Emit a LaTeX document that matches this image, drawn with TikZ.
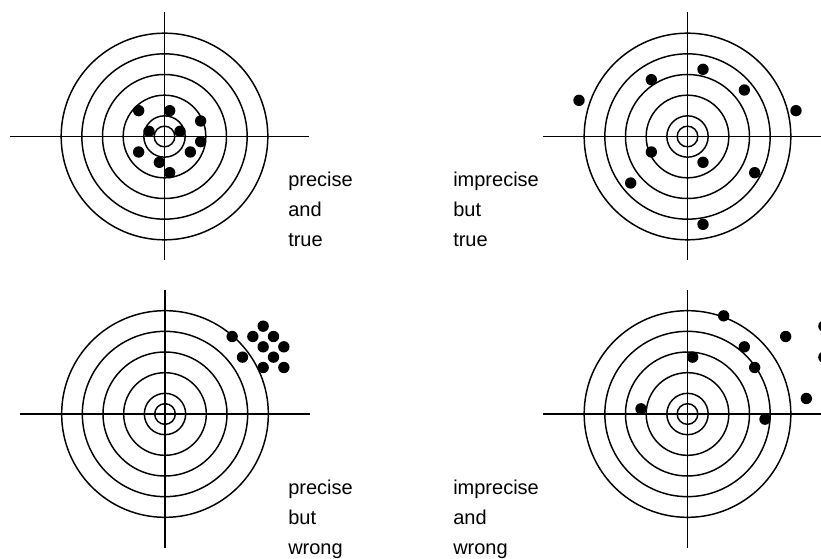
\documentclass[tikz,border=0pt]{standalone}
\usepackage{fontspec}
\setmainfont{Liberation Sans}
\tikzset{
  ring/.style={line width=1.1pt},
  axisline/.style={line width=1.1pt},
  shot/.style={fill=black},
  lbl/.style={anchor=base west, align=left, inner sep=0pt, font=\fontsize{15pt}{22.5pt}\selectfont},
  unitgrid/.style={x=7.75pt, y=-7.75pt}
}
\newcommand\rings{%
  \foreach \r in {1,2,4,6,8,10} {\draw[ring] (0,0) circle[radius=\r];}%
}
\begin{document}
\begin{tikzpicture}[x=0.75pt, y=-0.75pt]
\useasboundingbox (0,0) rectangle (821,559);
\clip (0,0) rectangle (821,559);

% top left: precise and true
\begin{scope}[shift={(164.5,136.5)}, unitgrid]
  \rings
  \draw[axisline] (-15,0) -- (14,0);
  \draw[axisline] (0,-12) -- (0,12);
  \foreach \p in {(-2.5,-2.5),(0.5,-2.5),(3.5,-1.5),(-1.5,-0.5),(1.5,-0.5),(3.5,0.5),(-2.5,1.5),(2.5,1.5),(-0.5,2.5),(0.5,3.5)}
    {\fill[shot] \p circle[radius=0.55];}
\end{scope}
\node[lbl] (tl) at (288,247) {precise\\and\\true};

% top right: imprecise but true
\begin{scope}[shift={(687.5,136.5)}, unitgrid]
  \rings
  \draw[axisline] (-14,0) -- (14,0);
  \draw[axisline] (0,-12) -- (0,12);
  \foreach \p in {(-10.5,-3.5),(-3.5,-5.5),(1.5,-6.5),(5.5,-4.5),(10.5,-2.5),(-3.5,1.5),(1.5,2.5),(6.5,3.5),(-5.5,4.5),(1.5,8.5)}
    {\fill[shot] \p circle[radius=0.55];}
\end{scope}
\node[lbl] (tr) at (453,247) {imprecise\\but\\true};

% bottom left: precise but wrong
\begin{scope}[shift={(165,414)}, unitgrid]
  \rings
  \draw[axisline] (-14,0) -- (14,0);
  \draw[axisline] (0,-12) -- (0,13);
  \foreach \p in {(6.5,-7.5),(8.5,-7.5),(9.5,-8.5),(10.5,-7.5),(9.5,-6.5),(11.5,-6.5),(7.5,-5.5),(10.5,-5.5),(9.5,-4.5),(11.5,-4.5)}
    {\fill[shot] \p circle[radius=0.55];}
\end{scope}
\node[lbl] (bl) at (288,554) {precise\\but\\wrong};

% bottom right: imprecise and wrong
\begin{scope}[shift={(687.5,414)}, unitgrid]
  \rings
  \draw[axisline] (-14,0) -- (14,0);
  \draw[axisline] (0,-12) -- (0,13);
  \foreach \p in {(3.5,-9.5),(9.5,-7.5),(5.5,-6.5),(0.5,-5.5),(6.5,-4.5),(11.5,-1.5),(-4.5,-0.5),(7.5,0.5),(13.2,-8.5),(13.2,-5.5)}
    {\fill[shot] \p circle[radius=0.55];}
\end{scope}
\node[lbl] (br) at (453,554) {imprecise\\and\\wrong};
\end{tikzpicture}
\end{document}
